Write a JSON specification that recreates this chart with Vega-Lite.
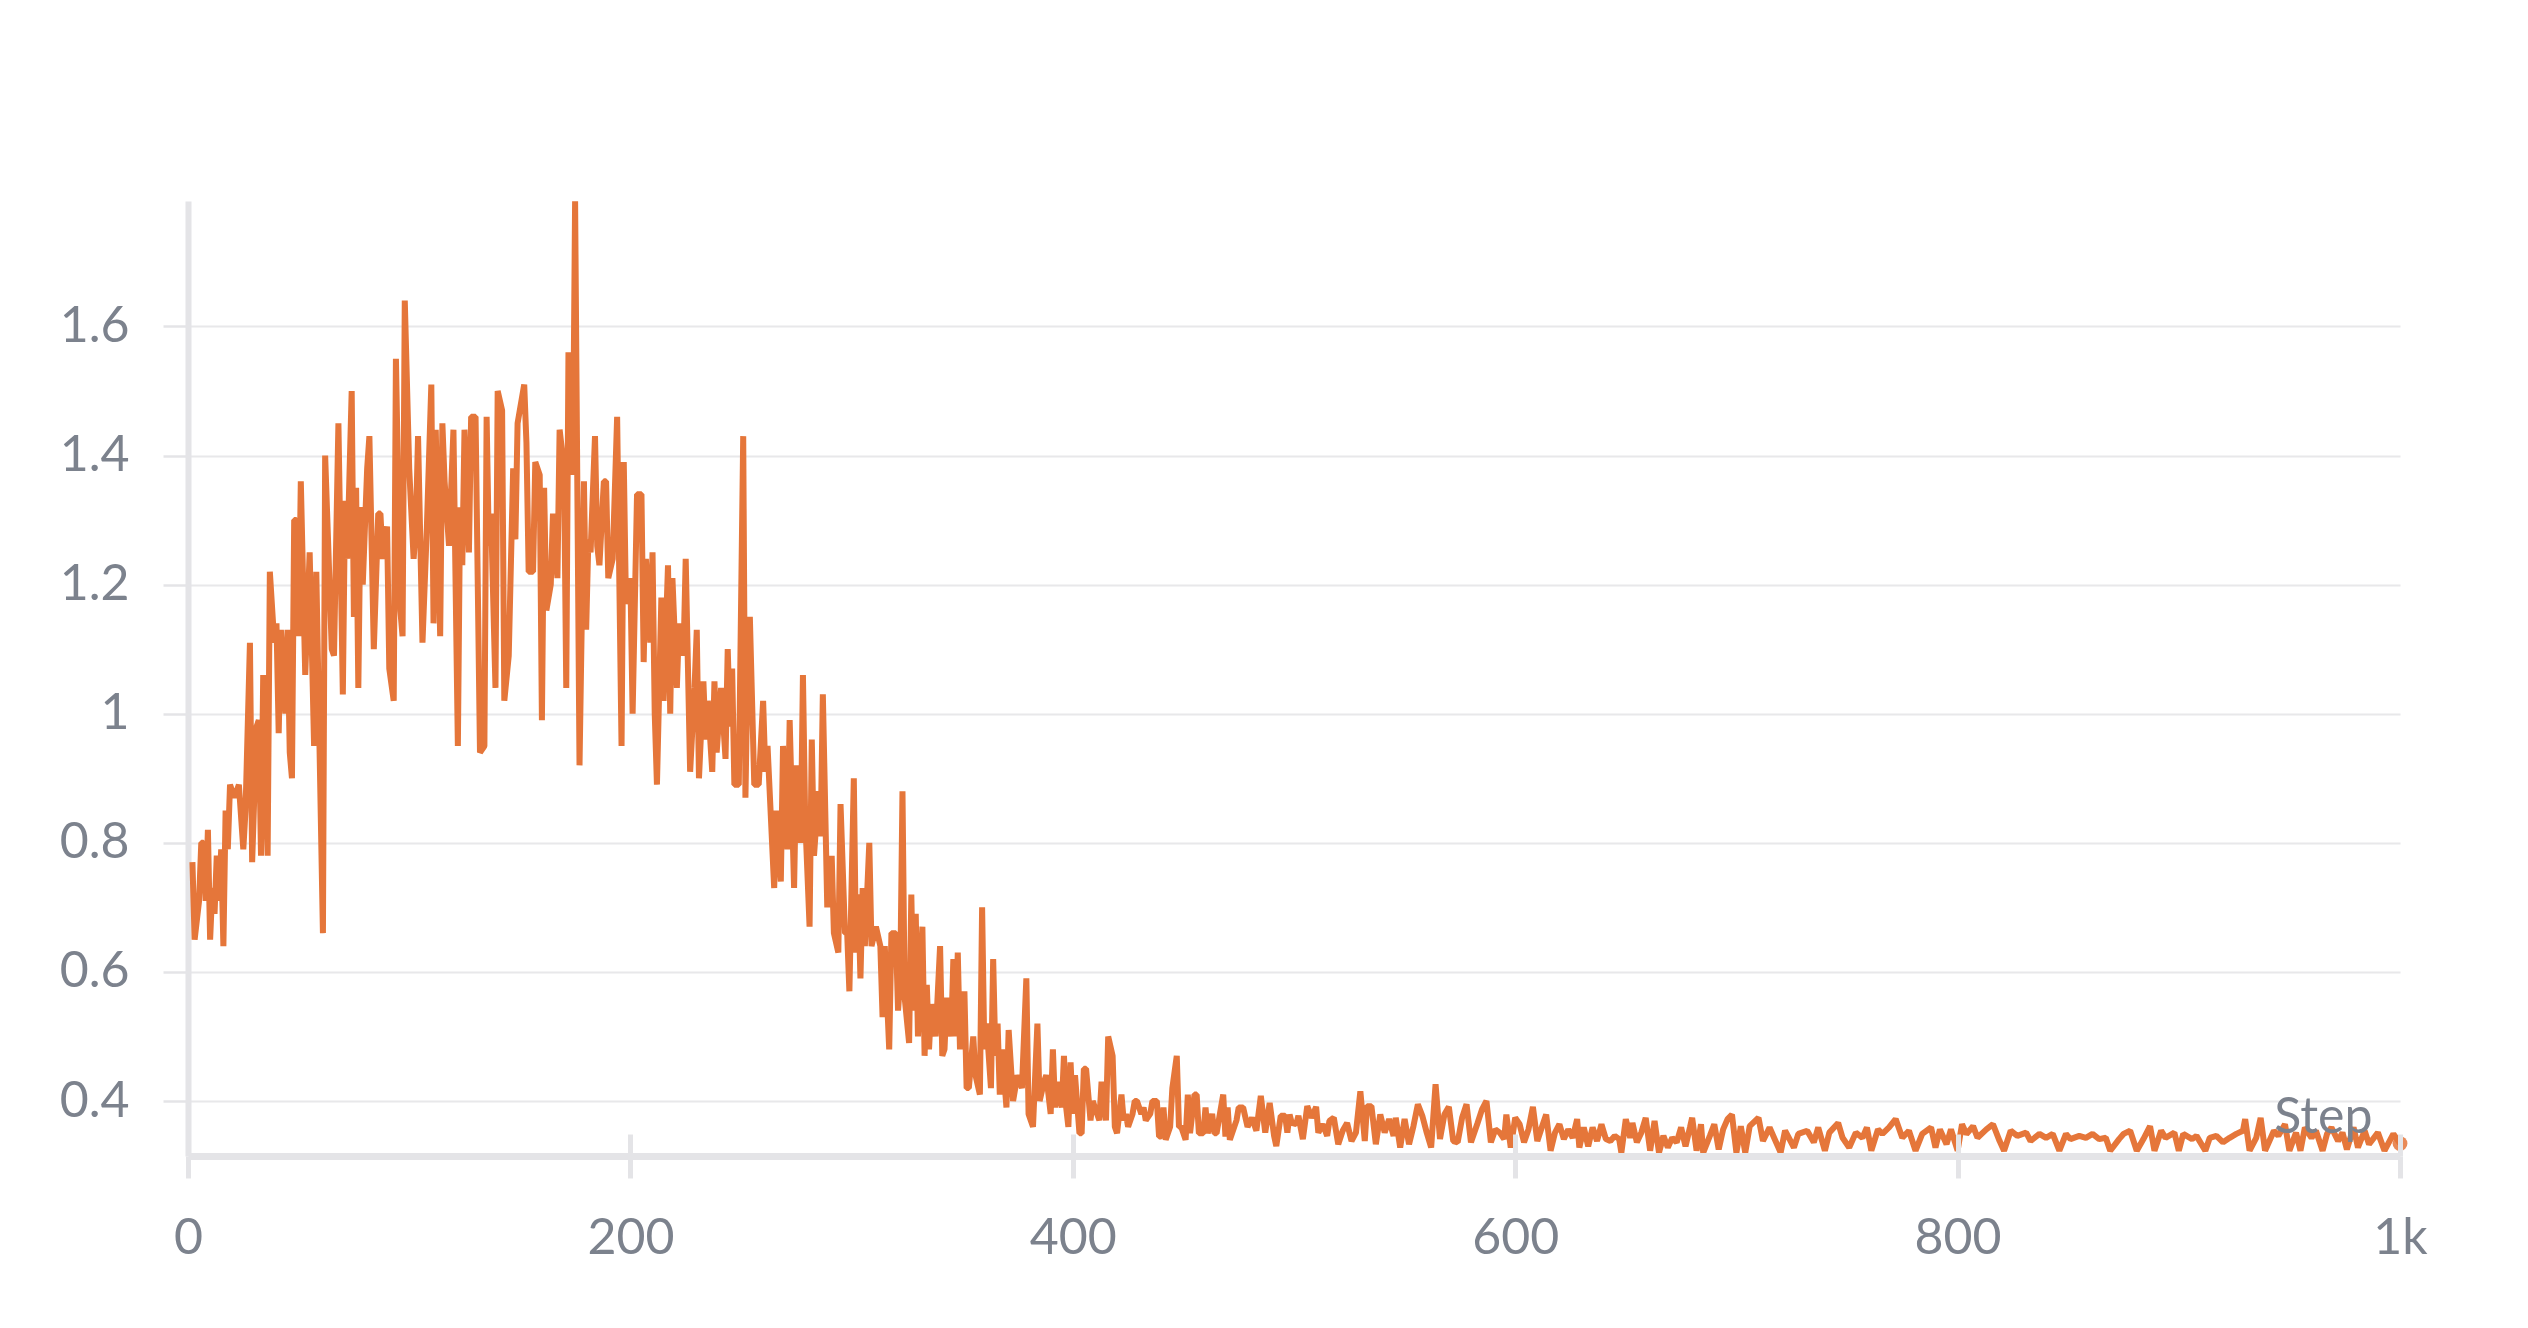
{
  "$schema": "https://vega.github.io/schema/vega-lite/v6.json",
  "autosize": "none",
  "width": 2212,
  "height": 955,
  "padding": {"left": 188, "top": 201, "right": 128, "bottom": 172},
  "background": "white",
  "config": {"view": {"stroke": null}, "font": "Lato"},
  "data": {"values": [
{"step":2,"loss":0.77},{"step":3,"loss":0.65},{"step":5,"loss":0.71},{"step":6,"loss":0.80},{"step":7,"loss":0.80},{"step":8,"loss":0.71},{"step":9,"loss":0.82},{"step":10,"loss":0.65},{"step":11,"loss":0.73},{"step":12,"loss":0.69},{"step":13,"loss":0.78},{"step":14,"loss":0.71},{"step":15,"loss":0.79},{"step":16,"loss":0.64},{"step":17,"loss":0.85},{"step":18,"loss":0.79},{"step":19,"loss":0.89},{"step":21,"loss":0.87},{"step":23,"loss":0.89},{"step":25,"loss":0.79},{"step":26,"loss":0.85},{"step":28,"loss":1.11},{"step":29,"loss":0.77},{"step":31,"loss":0.98},{"step":32,"loss":0.99},{"step":33,"loss":0.78},{"step":34,"loss":1.06},{"step":36,"loss":0.78},{"step":37,"loss":1.22},{"step":39,"loss":1.11},{"step":40,"loss":1.14},{"step":41,"loss":0.97},{"step":42,"loss":1.13},{"step":44,"loss":1.00},{"step":45,"loss":1.13},{"step":46,"loss":0.94},{"step":47,"loss":0.90},{"step":48,"loss":1.30},{"step":49,"loss":1.30},{"step":50,"loss":1.12},{"step":51,"loss":1.36},{"step":53,"loss":1.06},{"step":55,"loss":1.25},{"step":57,"loss":0.95},{"step":58,"loss":1.22},{"step":61,"loss":0.66},{"step":62,"loss":1.40},{"step":64,"loss":1.20},{"step":65,"loss":1.10},{"step":66,"loss":1.09},{"step":68,"loss":1.45},{"step":70,"loss":1.03},{"step":71,"loss":1.33},{"step":72,"loss":1.24},{"step":74,"loss":1.50},{"step":75,"loss":1.15},{"step":76,"loss":1.35},{"step":77,"loss":1.04},{"step":78,"loss":1.32},{"step":79,"loss":1.20},{"step":81,"loss":1.38},{"step":82,"loss":1.43},{"step":84,"loss":1.10},{"step":86,"loss":1.31},{"step":87,"loss":1.31},{"step":88,"loss":1.24},{"step":90,"loss":1.29},{"step":91,"loss":1.07},{"step":93,"loss":1.02},{"step":94,"loss":1.55},{"step":96,"loss":1.16},{"step":97,"loss":1.12},{"step":98,"loss":1.64},{"step":100,"loss":1.38},{"step":102,"loss":1.24},{"step":103,"loss":1.29},{"step":104,"loss":1.43},{"step":106,"loss":1.11},{"step":108,"loss":1.29},{"step":110,"loss":1.51},{"step":111,"loss":1.14},{"step":112,"loss":1.44},{"step":114,"loss":1.12},{"step":115,"loss":1.45},{"step":116,"loss":1.36},{"step":118,"loss":1.26},{"step":120,"loss":1.44},{"step":122,"loss":0.95},{"step":123,"loss":1.32},{"step":124,"loss":1.23},{"step":125,"loss":1.44},{"step":127,"loss":1.25},{"step":128,"loss":1.46},{"step":130,"loss":1.46},{"step":132,"loss":0.94},{"step":134,"loss":0.95},{"step":135,"loss":1.46},{"step":136,"loss":1.26},{"step":137,"loss":1.31},{"step":139,"loss":1.04},{"step":140,"loss":1.50},{"step":142,"loss":1.47},{"step":143,"loss":1.02},{"step":145,"loss":1.09},{"step":147,"loss":1.38},{"step":148,"loss":1.27},{"step":149,"loss":1.45},{"step":152,"loss":1.51},{"step":153,"loss":1.42},{"step":154,"loss":1.22},{"step":156,"loss":1.22},{"step":157,"loss":1.39},{"step":159,"loss":1.37},{"step":160,"loss":0.99},{"step":161,"loss":1.35},{"step":162,"loss":1.16},{"step":164,"loss":1.20},{"step":165,"loss":1.31},{"step":167,"loss":1.21},{"step":168,"loss":1.44},{"step":170,"loss":1.38},{"step":171,"loss":1.04},{"step":172,"loss":1.56},{"step":174,"loss":1.37},{"step":175,"loss":1.794},{"step":177,"loss":0.92},{"step":179,"loss":1.36},{"step":180,"loss":1.13},{"step":181,"loss":1.27},{"step":182,"loss":1.25},{"step":184,"loss":1.43},{"step":185,"loss":1.26},{"step":186,"loss":1.23},{"step":188,"loss":1.36},{"step":189,"loss":1.36},{"step":190,"loss":1.21},{"step":192,"loss":1.24},{"step":194,"loss":1.46},{"step":196,"loss":0.95},{"step":197,"loss":1.39},{"step":198,"loss":1.17},{"step":200,"loss":1.21},{"step":201,"loss":1.00},{"step":203,"loss":1.34},{"step":205,"loss":1.34},{"step":206,"loss":1.08},{"step":207,"loss":1.24},{"step":209,"loss":1.11},{"step":210,"loss":1.25},{"step":211,"loss":1.00},{"step":212,"loss":0.89},{"step":214,"loss":1.18},{"step":215,"loss":1.02},{"step":217,"loss":1.23},{"step":218,"loss":1.00},{"step":219,"loss":1.21},{"step":221,"loss":1.04},{"step":222,"loss":1.14},{"step":224,"loss":1.09},{"step":225,"loss":1.24},{"step":227,"loss":0.91},{"step":229,"loss":1.04},{"step":230,"loss":1.13},{"step":231,"loss":0.90},{"step":233,"loss":1.05},{"step":234,"loss":0.96},{"step":235,"loss":1.02},{"step":237,"loss":0.91},{"step":238,"loss":1.05},{"step":239,"loss":0.94},{"step":241,"loss":1.04},{"step":243,"loss":0.93},{"step":244,"loss":1.10},{"step":245,"loss":0.98},{"step":246,"loss":1.07},{"step":247,"loss":0.89},{"step":249,"loss":0.89},{"step":251,"loss":1.43},{"step":252,"loss":0.87},{"step":253,"loss":1.07},{"step":254,"loss":1.15},{"step":256,"loss":0.89},{"step":258,"loss":0.89},{"step":260,"loss":1.02},{"step":261,"loss":0.91},{"step":262,"loss":0.95},{"step":265,"loss":0.73},{"step":266,"loss":0.85},{"step":268,"loss":0.74},{"step":269,"loss":0.95},{"step":271,"loss":0.79},{"step":272,"loss":0.99},{"step":274,"loss":0.73},{"step":275,"loss":0.92},{"step":277,"loss":0.80},{"step":278,"loss":1.06},{"step":279,"loss":0.84},{"step":281,"loss":0.67},{"step":282,"loss":0.96},{"step":283,"loss":0.78},{"step":285,"loss":0.88},{"step":286,"loss":0.81},{"step":287,"loss":1.03},{"step":289,"loss":0.70},{"step":291,"loss":0.78},{"step":292,"loss":0.66},{"step":294,"loss":0.63},{"step":295,"loss":0.86},{"step":297,"loss":0.66},{"step":298,"loss":0.66},{"step":299,"loss":0.57},{"step":301,"loss":0.90},{"step":302,"loss":0.63},{"step":303,"loss":0.72},{"step":304,"loss":0.59},{"step":305,"loss":0.73},{"step":306,"loss":0.64},{"step":308,"loss":0.80},{"step":309,"loss":0.64},{"step":311,"loss":0.67},{"step":313,"loss":0.64},{"step":314,"loss":0.53},{"step":315,"loss":0.64},{"step":316,"loss":0.56},{"step":317,"loss":0.48},{"step":318,"loss":0.66},{"step":320,"loss":0.66},{"step":321,"loss":0.54},{"step":322,"loss":0.59},{"step":323,"loss":0.88},{"step":324,"loss":0.56},{"step":326,"loss":0.49},{"step":327,"loss":0.72},{"step":328,"loss":0.54},{"step":329,"loss":0.69},{"step":330,"loss":0.50},{"step":332,"loss":0.67},{"step":333,"loss":0.47},{"step":334,"loss":0.58},{"step":335,"loss":0.48},{"step":336,"loss":0.55},{"step":338,"loss":0.50},{"step":340,"loss":0.64},{"step":341,"loss":0.47},{"step":342,"loss":0.48},{"step":343,"loss":0.56},{"step":345,"loss":0.50},{"step":346,"loss":0.62},{"step":347,"loss":0.50},{"step":348,"loss":0.63},{"step":349,"loss":0.48},{"step":351,"loss":0.57},{"step":352,"loss":0.42},{"step":353,"loss":0.42},{"step":355,"loss":0.50},{"step":356,"loss":0.44},{"step":358,"loss":0.41},{"step":359,"loss":0.70},{"step":360,"loss":0.48},{"step":361,"loss":0.52},{"step":363,"loss":0.42},{"step":364,"loss":0.62},{"step":365,"loss":0.47},{"step":366,"loss":0.52},{"step":367,"loss":0.41},{"step":368,"loss":0.48},{"step":370,"loss":0.39},{"step":371,"loss":0.51},{"step":373,"loss":0.40},{"step":374,"loss":0.42},{"step":375,"loss":0.44},{"step":377,"loss":0.42},{"step":379,"loss":0.59},{"step":380,"loss":0.38},{"step":382,"loss":0.36},{"step":384,"loss":0.52},{"step":385,"loss":0.40},{"step":387,"loss":0.43},{"step":388,"loss":0.44},{"step":390,"loss":0.38},{"step":391,"loss":0.48},{"step":392,"loss":0.39},{"step":393,"loss":0.43},{"step":395,"loss":0.39},{"step":396,"loss":0.47},{"step":397,"loss":0.39},{"step":398,"loss":0.36},{"step":399,"loss":0.46},{"step":400,"loss":0.38},{"step":401,"loss":0.44},{"step":403,"loss":0.35},{"step":404,"loss":0.35},{"step":405,"loss":0.45},{"step":406,"loss":0.45},{"step":408,"loss":0.37},{"step":409,"loss":0.40},{"step":410,"loss":0.39},{"step":412,"loss":0.37},{"step":413,"loss":0.43},{"step":415,"loss":0.37},{"step":416,"loss":0.50},{"step":418,"loss":0.47},{"step":419,"loss":0.36},{"step":420,"loss":0.35},{"step":422,"loss":0.41},{"step":423,"loss":0.37},{"step":424,"loss":0.38},{"step":425,"loss":0.36},{"step":427,"loss":0.38},{"step":428,"loss":0.40},{"step":429,"loss":0.40},{"step":431,"loss":0.38},{"step":432,"loss":0.39},{"step":433,"loss":0.37},{"step":435,"loss":0.38},{"step":436,"loss":0.40},{"step":438,"loss":0.40},{"step":439,"loss":0.345},{"step":440,"loss":0.345},{"step":441,"loss":0.39},{"step":442,"loss":0.34},{"step":444,"loss":0.36},{"step":445,"loss":0.42},{"step":447,"loss":0.47},{"step":448,"loss":0.36},{"step":449,"loss":0.36},{"step":451,"loss":0.34},{"step":452,"loss":0.41},{"step":453,"loss":0.35},{"step":455,"loss":0.41},{"step":456,"loss":0.41},{"step":457,"loss":0.35},{"step":459,"loss":0.35},{"step":460,"loss":0.39},{"step":461,"loss":0.35},{"step":463,"loss":0.38},{"step":464,"loss":0.35},{"step":465,"loss":0.35},{"step":468,"loss":0.41},{"step":469,"loss":0.345},{"step":470,"loss":0.39},{"step":471,"loss":0.34},{"step":473,"loss":0.36},{"step":474,"loss":0.37},{"step":475,"loss":0.39},{"step":477,"loss":0.39},{"step":479,"loss":0.36},{"step":481,"loss":0.374},{"step":483,"loss":0.354},{"step":485,"loss":0.408},{"step":487,"loss":0.351},{"step":489,"loss":0.397},{"step":491,"loss":0.346},{"step":492,"loss":0.330},{"step":494,"loss":0.377},{"step":496,"loss":0.377},{"step":497,"loss":0.351},{"step":498,"loss":0.379},{"step":499,"loss":0.366},{"step":501,"loss":0.364},{"step":502,"loss":0.377},{"step":504,"loss":0.341},{"step":506,"loss":0.392},{"step":508,"loss":0.374},{"step":510,"loss":0.391},{"step":511,"loss":0.351},{"step":513,"loss":0.364},{"step":515,"loss":0.346},{"step":516,"loss":0.369},{"step":518,"loss":0.374},{"step":520,"loss":0.333},{"step":522,"loss":0.354},{"step":524,"loss":0.366},{"step":526,"loss":0.338},{"step":528,"loss":0.351},{"step":530,"loss":0.415},{"step":532,"loss":0.338},{"step":533,"loss":0.392},{"step":535,"loss":0.392},{"step":537,"loss":0.333},{"step":539,"loss":0.379},{"step":541,"loss":0.351},{"step":543,"loss":0.372},{"step":545,"loss":0.346},{"step":546,"loss":0.374},{"step":548,"loss":0.328},{"step":550,"loss":0.372},{"step":552,"loss":0.333},{"step":554,"loss":0.361},{"step":556,"loss":0.395},{"step":558,"loss":0.377},{"step":560,"loss":0.351},{"step":562,"loss":0.328},{"step":564,"loss":0.426},{"step":566,"loss":0.341},{"step":568,"loss":0.379},{"step":570,"loss":0.391},{"step":572,"loss":0.338},{"step":574,"loss":0.336},{"step":576,"loss":0.374},{"step":578,"loss":0.395},{"step":580,"loss":0.336},{"step":583,"loss":0.366},{"step":585,"loss":0.387},{"step":587,"loss":0.400},{"step":589,"loss":0.336},{"step":591,"loss":0.356},{"step":593,"loss":0.351},{"step":595,"loss":0.341},{"step":596,"loss":0.379},{"step":598,"loss":0.328},{"step":600,"loss":0.374},{"step":602,"loss":0.364},{"step":604,"loss":0.336},{"step":606,"loss":0.356},{"step":608,"loss":0.391},{"step":610,"loss":0.338},{"step":612,"loss":0.359},{"step":614,"loss":0.379},{"step":616,"loss":0.323},{"step":618,"loss":0.351},{"step":620,"loss":0.364},{"step":622,"loss":0.341},{"step":624,"loss":0.356},{"step":626,"loss":0.343},{"step":628,"loss":0.372},{"step":629,"loss":0.328},{"step":631,"loss":0.359},{"step":633,"loss":0.330},{"step":635,"loss":0.359},{"step":637,"loss":0.338},{"step":639,"loss":0.364},{"step":641,"loss":0.341},{"step":643,"loss":0.338},{"step":645,"loss":0.346},{"step":647,"loss":0.341},{"step":648,"loss":0.320},{"step":650,"loss":0.372},{"step":652,"loss":0.343},{"step":653,"loss":0.366},{"step":655,"loss":0.336},{"step":657,"loss":0.351},{"step":659,"loss":0.374},{"step":661,"loss":0.323},{"step":663,"loss":0.369},{"step":665,"loss":0.320},{"step":667,"loss":0.346},{"step":669,"loss":0.328},{"step":671,"loss":0.343},{"step":673,"loss":0.336},{"step":675,"loss":0.359},{"step":677,"loss":0.330},{"step":679,"loss":0.359},{"step":680,"loss":0.374},{"step":682,"loss":0.323},{"step":684,"loss":0.364},{"step":685,"loss":0.320},{"step":688,"loss":0.346},{"step":690,"loss":0.364},{"step":692,"loss":0.325},{"step":694,"loss":0.356},{"step":696,"loss":0.372},{"step":698,"loss":0.379},{"step":700,"loss":0.320},{"step":702,"loss":0.361},{"step":704,"loss":0.320},{"step":706,"loss":0.361},{"step":710,"loss":0.374},{"step":712,"loss":0.338},{"step":715,"loss":0.359},{"step":720,"loss":0.320},{"step":722,"loss":0.354},{"step":726,"loss":0.328},{"step":728,"loss":0.349},{"step":732,"loss":0.354},{"step":735,"loss":0.336},{"step":737,"loss":0.359},{"step":740,"loss":0.323},{"step":742,"loss":0.351},{"step":746,"loss":0.366},{"step":748,"loss":0.343},{"step":751,"loss":0.328},{"step":754,"loss":0.351},{"step":757,"loss":0.343},{"step":759,"loss":0.359},{"step":761,"loss":0.323},{"step":764,"loss":0.356},{"step":766,"loss":0.349},{"step":769,"loss":0.359},{"step":772,"loss":0.372},{"step":775,"loss":0.343},{"step":778,"loss":0.354},{"step":781,"loss":0.323},{"step":784,"loss":0.349},{"step":788,"loss":0.359},{"step":790,"loss":0.328},{"step":792,"loss":0.356},{"step":795,"loss":0.333},{"step":797,"loss":0.356},{"step":800,"loss":0.323},{"step":802,"loss":0.364},{"step":804,"loss":0.349},{"step":807,"loss":0.361},{"step":809,"loss":0.343},{"step":813,"loss":0.356},{"step":816,"loss":0.364},{"step":819,"loss":0.338},{"step":821,"loss":0.323},{"step":824,"loss":0.354},{"step":827,"loss":0.346},{"step":831,"loss":0.351},{"step":833,"loss":0.338},{"step":837,"loss":0.349},{"step":840,"loss":0.343},{"step":843,"loss":0.349},{"step":846,"loss":0.323},{"step":849,"loss":0.349},{"step":851,"loss":0.341},{"step":855,"loss":0.346},{"step":858,"loss":0.343},{"step":861,"loss":0.349},{"step":864,"loss":0.341},{"step":867,"loss":0.343},{"step":869,"loss":0.323},{"step":873,"loss":0.341},{"step":875,"loss":0.349},{"step":878,"loss":0.354},{"step":881,"loss":0.323},{"step":884,"loss":0.341},{"step":887,"loss":0.361},{"step":889,"loss":0.323},{"step":892,"loss":0.354},{"step":894,"loss":0.343},{"step":898,"loss":0.351},{"step":900,"loss":0.323},{"step":902,"loss":0.349},{"step":906,"loss":0.341},{"step":908,"loss":0.346},{"step":912,"loss":0.323},{"step":914,"loss":0.343},{"step":917,"loss":0.346},{"step":920,"loss":0.336},{"step":923,"loss":0.343},{"step":926,"loss":0.349},{"step":929,"loss":0.354},{"step":930,"loss":0.372},{"step":932,"loss":0.323},{"step":935,"loss":0.343},{"step":937,"loss":0.374},{"step":939,"loss":0.323},{"step":943,"loss":0.354},{"step":945,"loss":0.346},{"step":948,"loss":0.364},{"step":950,"loss":0.323},{"step":953,"loss":0.351},{"step":955,"loss":0.323},{"step":957,"loss":0.359},{"step":960,"loss":0.343},{"step":962,"loss":0.354},{"step":965,"loss":0.323},{"step":967,"loss":0.349},{"step":969,"loss":0.359},{"step":972,"loss":0.338},{"step":974,"loss":0.351},{"step":976,"loss":0.325},{"step":979,"loss":0.359},{"step":981,"loss":0.328},{"step":984,"loss":0.354},{"step":986,"loss":0.333},{"step":990,"loss":0.351},{"step":993,"loss":0.323},{"step":997,"loss":0.349},{"step":1000,"loss":0.334}
  ]},
  "encoding": {
    "y": {
      "field": "loss", "type": "quantitative",
      "scale": {"domain": [0.3148, 1.7943], "nice": false, "zero": false},
      "axis": {
        "title": null,
        "values": [0.4, 0.6, 0.8, 1, 1.2, 1.4, 1.6],
        "format": "~g",
        "labelFont": "Lato", "labelFontSize": 50, "labelColor": "#7c828d",
        "labelPadding": 34,
        "tickSize": 25, "tickWidth": 2.5, "tickColor": "#e4e4e7",
        "domainWidth": 6, "domainColor": "#e4e4e7",
        "grid": true, "gridColor": "#e8e8ea", "gridWidth": 2,
        "zindex": 0
      }
    }
  },
  "layer": [
    {
      "mark": {"type": "line", "color": "#e5763a", "strokeWidth": 6, "strokeJoin": "bevel", "clip": true},
      "encoding": {
        "x": {
          "field": "step", "type": "quantitative",
          "scale": {"domain": [0, 1000], "nice": false, "zero": false},
          "axis": {
            "orient": "bottom",
            "values": [0, 200, 400, 600, 800, 1000],
            "labelExpr": "datum.value == 1000 ? '1k' : datum.label",
            "labelFont": "Lato", "labelFontSize": 50, "labelColor": "#7c828d",
            "labelPadding": 35, "labelFlush": false,
            "tickSize": 22, "tickWidth": 5, "tickColor": "#e4e4e7",
            "domainWidth": 7, "domainColor": "#e4e4e7",
            "grid": false,
            "title": "Step",
            "titleFont": "Lato", "titleFontSize": 50, "titleFontWeight": "normal", "titleColor": "#7c828d",
            "titleAnchor": "end", "titleAlign": "right", "titleBaseline": "alphabetic",
            "titleX": 2184, "titleY": -24,
            "zindex": 1
          }
        }
      }
    },
    {
      "transform": [{"filter": "datum.step == 1000"}],
      "mark": {"type": "point", "filled": true, "color": "#e5763a", "opacity": 0.85, "size": 220},
      "encoding": {
        "x": {
          "field": "step", "type": "quantitative",
          "axis": {
            "orient": "top",
            "offset": -955,
            "values": [200, 400, 600, 800, 1000],
            "labels": false, "domain": false, "grid": false, "title": null,
            "tickSize": 22, "tickWidth": 5, "tickColor": "#e4e4e7",
            "zindex": 1
          }
        }
      }
    }
  ],
  "resolve": {"axis": {"x": "independent"}}
}
